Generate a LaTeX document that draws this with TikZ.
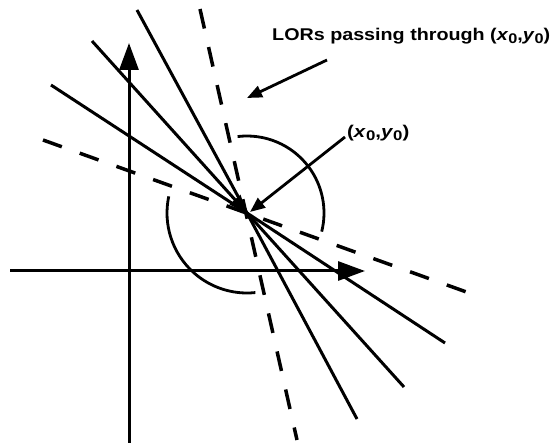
\documentclass[tikz,border=0pt]{standalone}
\usepackage{fontspec}
\setmainfont{Liberation Sans}
\usetikzlibrary{arrows.meta,calc}
\newcommand{\subz}{\raisebox{-0.3ex}{\fontsize{14}{14}\selectfont\bfseries 0}}
\newcommand{\pointlabel}{(\textit{x}\subz,\textit{y}\subz)}
\begin{document}
\begin{tikzpicture}[x=1pt,y=1pt,
  solidline/.style={line width=3pt},
  dashline/.style={line width=3.5pt, dash pattern=on 20pt off 19pt},
  axisline/.style={line width=3pt, -{Triangle[length=27pt,width=19pt]}},
  labelarrow/.style={line width=2.8pt, -{Triangle[length=15pt,width=12pt]}},
  labeltext/.style={inner sep=0pt, anchor=base west, font=\fontsize{17}{17}\selectfont\bfseries}]
\useasboundingbox (0,0) rectangle (558,448);
% key points
\coordinate (O) at (247,235);
\coordinate (vb) at (129,5);
\coordinate (vt) at (129,405);
\coordinate (hl) at (10,177);
\coordinate (hr) at (365,177);
\coordinate (a1) at (51,363);
\coordinate (b1) at (445,105);
\coordinate (a2) at (92,407);
\coordinate (b2) at (404,61);
\coordinate (a3) at (137,438);
\coordinate (b3) at (357,29);
\coordinate (da) at (200,439);
\coordinate (db) at (297,8);
\coordinate (ea) at (43,308);
\coordinate (eb) at (472,154);
% axes
\draw[axisline] (vb) -- (vt);
\draw[axisline] (hl) -- (hr);
% LORs
\draw[solidline] (a1) -- (O) -- (b1);
\draw[solidline] (a3) -- (O) -- (b3);
\draw[solidline] (O) -- (b2);
\draw[solidline, -{Triangle[length=18pt,width=14pt]}] (a2) -- (O);
% dashed lines
\draw[dashline] (da) -- (db);
\draw[dashline] (ea) -- (eb);
% arcs
\draw[line width=2.8pt] ($(O)+(97:77)$) arc[start angle=97, end angle=-14, radius=77];
\draw[line width=2.8pt] ($(O)+(168:80)$) arc[start angle=168, end angle=276, radius=80];
% labels
\node[labeltext] (lors) at (272,407) {\scalebox{1.16}[1]{LORs passing through \pointlabel}};
\coordinate (lorsfrom) at (327,388);
\coordinate (lorsto) at (247,350);
\draw[labelarrow] (lorsfrom) -- (lorsto);
\node[labeltext] (pt) at (347,310) {\scalebox{1.2}[1]{\pointlabel}};
\coordinate (ptfrom) at (345,311);
\coordinate (ptto) at (250,236);
\draw[labelarrow] (ptfrom) -- (ptto);
\end{tikzpicture}
\end{document}
